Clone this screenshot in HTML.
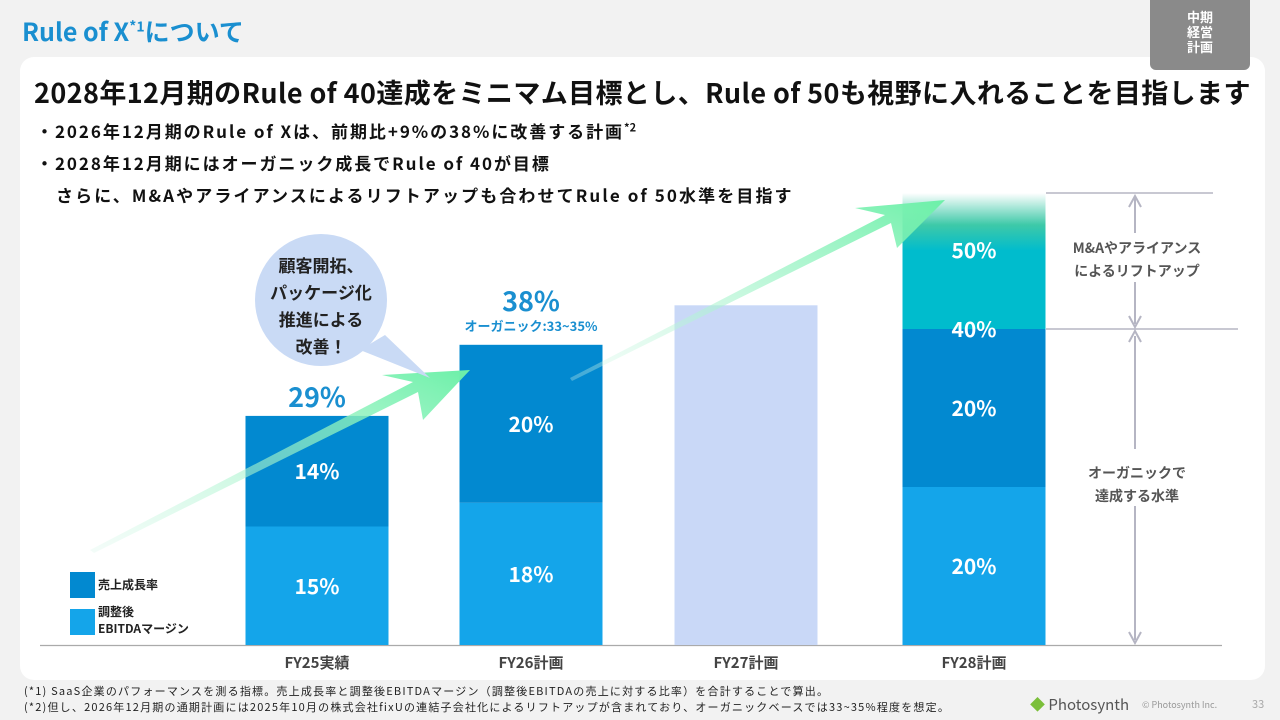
<!DOCTYPE html>
<html><head><meta charset="utf-8">
<style>
body{margin:0;width:1280px;height:720px;background:#f2f2f2;font-family:"Liberation Sans","Noto Sans CJK JP",sans-serif;overflow:hidden;position:relative}
.t{position:absolute;white-space:nowrap;font-family:"Noto Sans CJK JP","Liberation Sans",sans-serif;font-weight:700}
</style></head><body>
<div class="t" style="left:22px;top:13px;font-size:25px;color:#1a8fd0;letter-spacing:0px">Rule of X<sup style="font-size:14px">*1</sup>について</div>
<div style="position:absolute;left:20px;top:57px;width:1245px;height:623px;background:#fff;border-radius:14px"></div>
<div style="position:absolute;left:1150px;top:0;width:100px;height:70px;background:#8a8a8a;border-radius:0 0 6px 6px;color:#fff;font:700 13px 'Noto Sans CJK JP',sans-serif;text-align:center;line-height:15px;padding-top:9px;box-sizing:border-box;z-index:2">中期<br>経営<br>計画</div>
<div class="t" style="left:34px;top:72px;font-size:27px;color:#111;letter-spacing:0.4px">2028年12月期のRule of 40達成をミニマム目標とし、Rule of 50も視野に入れることを目指します</div>
<div class="t" style="left:36px;top:118px;font-size:17px;color:#111;letter-spacing:1.95px">・2026年12月期のRule of Xは、前期比+9%の38%に改善する計画<sup style="font-size:11px;letter-spacing:0">*2</sup></div>
<div class="t" style="left:36px;top:150px;font-size:17px;color:#111;letter-spacing:1.95px">・2028年12月期にはオーガニック成長でRule of 40が目標</div>
<div class="t" style="left:56px;top:182px;font-size:17px;color:#111;letter-spacing:2.1px">さらに、M&amp;Aやアライアンスによるリフトアップも合わせてRule of 50水準を目指す</div>
<svg id="chart" width="1280" height="720" style="position:absolute;left:0;top:0" font-family="Noto Sans CJK JP, Liberation Sans, sans-serif" font-weight="700">
<defs>
<linearGradient id="arrowG" x1="0" y1="1" x2="1" y2="0"><stop offset="0" stop-color="#d8f7ea" stop-opacity="0.3"/><stop offset="1" stop-color="#6cf0a8"/></linearGradient>
<linearGradient id="topG" x1="0" y1="1" x2="0" y2="0"><stop offset="0" stop-color="#00bccd"/><stop offset="0.45" stop-color="#3ec9a8"/><stop offset="1" stop-color="#ffffff"/></linearGradient>
</defs>
</svg>
<div class="t" style="left:24px;top:683px;font-size:11px;font-weight:400;color:#222;letter-spacing:1.2px">(*1) SaaS企業のパフォーマンスを測る指標。売上成長率と調整後EBITDAマージン（調整後EBITDAの売上に対する比率）を合計することで算出。</div>
<div class="t" style="left:24px;top:699px;font-size:11px;font-weight:400;color:#222;letter-spacing:1.2px">(*2)但し、2026年12月期の通期計画には2025年10月の株式会社fixUの連結子会社化によるリフトアップが含まれており、オーガニックベースでは33~35%程度を想定。</div>
<div class="t" style="left:1030px;top:694px;font-size:15px;font-weight:400;color:#555"><span style="color:#7bbf3a">◆</span> Photosynth</div>
<div class="t" style="left:1142px;top:698px;font-size:9px;font-weight:400;color:#999">© Photosynth Inc.</div>
<div class="t" style="left:1252px;top:696px;font-size:11px;font-weight:400;color:#aaa">33</div>
<script>
const categories=["FY25実績","FY26計画","FY27計画","FY28計画"];
const ebitdaMargin=[15,18,null,20];
const revenueGrowth=[14,20,null,20];
const liftUp=[null,null,null,10];
const fy27Total=[null,null,43,null];
const totals=[29,38,null,null];
const svg=document.getElementById('chart');
const NS='http://www.w3.org/2000/svg';
const base=645, scale=7.9, barW=143;
const centers=[317,531,746,974];
function y(v){return base-v*scale;}
function mk(tag,attrs,name,parent){const e=document.createElementNS(NS,tag);for(const k in attrs)e.setAttribute(k,attrs[k]);


(parent||svg).appendChild(e);return e;}
function txt(x,yy,s,size,fill,name,anchor){const t=mk('text',{x:x,y:yy,'font-size':size,fill:fill,'text-anchor':anchor||'middle'},name);t.textContent=s;return t;}
mk('line',{x1:40,y1:base+0.5,x2:1222,y2:base+0.5,stroke:'#aaa','stroke-width':1.2},'x-axis');
categories.forEach((c,i)=>{
  const x0=centers[i]-barW/2;
  if(fy27Total[i]!=null){mk('rect',{x:x0,y:y(fy27Total[i]),width:barW,height:fy27Total[i]*scale,fill:'#c9d8f7'},'bar-fy27');}
  let acc=0;
  if(ebitdaMargin[i]!=null){mk('rect',{x:x0,y:y(ebitdaMargin[i]),width:barW,height:ebitdaMargin[i]*scale,fill:'#14a5ea'},'bar-ebitda-'+i);
    txt(centers[i],y(ebitdaMargin[i]/2)+8,ebitdaMargin[i]+'%',21,'#fff','label-ebitda-'+i);acc=ebitdaMargin[i];}
  if(revenueGrowth[i]!=null){mk('rect',{x:x0,y:y(acc+revenueGrowth[i]),width:barW,height:revenueGrowth[i]*scale,fill:'#0289d0'},'bar-growth-'+i);
    txt(centers[i],y(acc+revenueGrowth[i]/2)+8,revenueGrowth[i]+'%',21,'#fff','label-growth-'+i);acc+=revenueGrowth[i];}
  if(liftUp[i]!=null){const top=acc+liftUp[i];
    mk('rect',{x:x0,y:193,width:barW,height:y(top)-193+1,fill:'url(#topG)'},'bar-liftup-gradient');
    mk('rect',{x:x0,y:y(top),width:barW,height:liftUp[i]*scale,fill:'#00bccd'},'bar-liftup');
    txt(centers[i],y(top)+8,top+'%',21,'#fff','label-50');
    txt(centers[i],y(acc)+8,acc+'%',21,'#fff','label-40');}
  if(totals[i]!=null){txt(centers[i],y(totals[i])-(i==1?34:9),totals[i]+'%',27,'#1a8fd0','total-'+i);}
  txt(centers[i],base+23,c,15,'#444','x-label-'+i);
});
txt(centers[1],y(38)-14,'オーガニック:33~35%',13,'#1a8fd0','organic-note');
const g='#b5b5c3';
mk('line',{x1:1046,y1:193,x2:1213,y2:193,stroke:g,'stroke-width':1.5},'ref-line-50');
mk('line',{x1:1046,y1:y(40),x2:1238,y2:y(40),stroke:g,'stroke-width':1.5},'ref-line-40');
function varrow(x,y1,y2,name){mk('line',{x1:x,y1:y1,x2:x,y2:y2,stroke:g,'stroke-width':2},name);}
varrow(1135,198,233,'arrow-lift-up');varrow(1135,282,y(40)-5,'arrow-lift-down');
varrow(1135,y(40)+7,449,'arrow-org-up');varrow(1135,506,640,'arrow-org-down');
const l=y(40);
mk('path',{d:`M1129,207 L1135,196 L1141,207 M1129,${l-13} L1135,${l-2} L1141,${l-13} M1129,${l+13} L1135,${l+2} L1141,${l+13} M1129,632 L1135,643 L1141,632`,stroke:g,'stroke-width':2,fill:'none'},'arrow-heads');
txt(1137,253,'M&Aやアライアンス',14,'#555','liftup-label-1');
txt(1137,276,'によるリフトアップ',14,'#555','liftup-label-2');
txt(1137,478,'オーガニックで',14,'#555','organic-label-1');
txt(1137,501,'達成する水準',14,'#555','organic-label-2');
mk('path',{d:'M90,550 L413,382 L382,375 L470,370 L423,420 L418,392 L94,553 Z',fill:'url(#arrowG)'},'growth-arrow-1');
mk('path',{d:'M570,378 L885,215 L855,208 L945,200 L897,248 L891,223 L572,381 Z',fill:'url(#arrowG)'},'growth-arrow-2');
mk('path',{d:'M360,350 L430,378 L385,335 Z',fill:'#c9daf5'},'bubble-tail');
mk('circle',{cx:321,cy:300,r:66,fill:'#c9daf5'},'speech-bubble');
['顧客開拓、','パッケージ化','推進による','改善！'].forEach((s,i)=>txt(321,272+i*27,s,17,'#222','bubble-text-'+i));
mk('rect',{x:70,y:572,width:25,height:26,fill:'#0289d0'},'legend-swatch-growth');
mk('rect',{x:70,y:609,width:25,height:26,fill:'#14a5ea'},'legend-swatch-ebitda');
txt(98,589,'売上成長率',12,'#222','legend-growth','start');
txt(98,616,'調整後',12,'#222','legend-ebitda-1','start');
txt(98,633,'EBITDAマージン',12,'#222','legend-ebitda-2','start');
</script>
</body></html>
